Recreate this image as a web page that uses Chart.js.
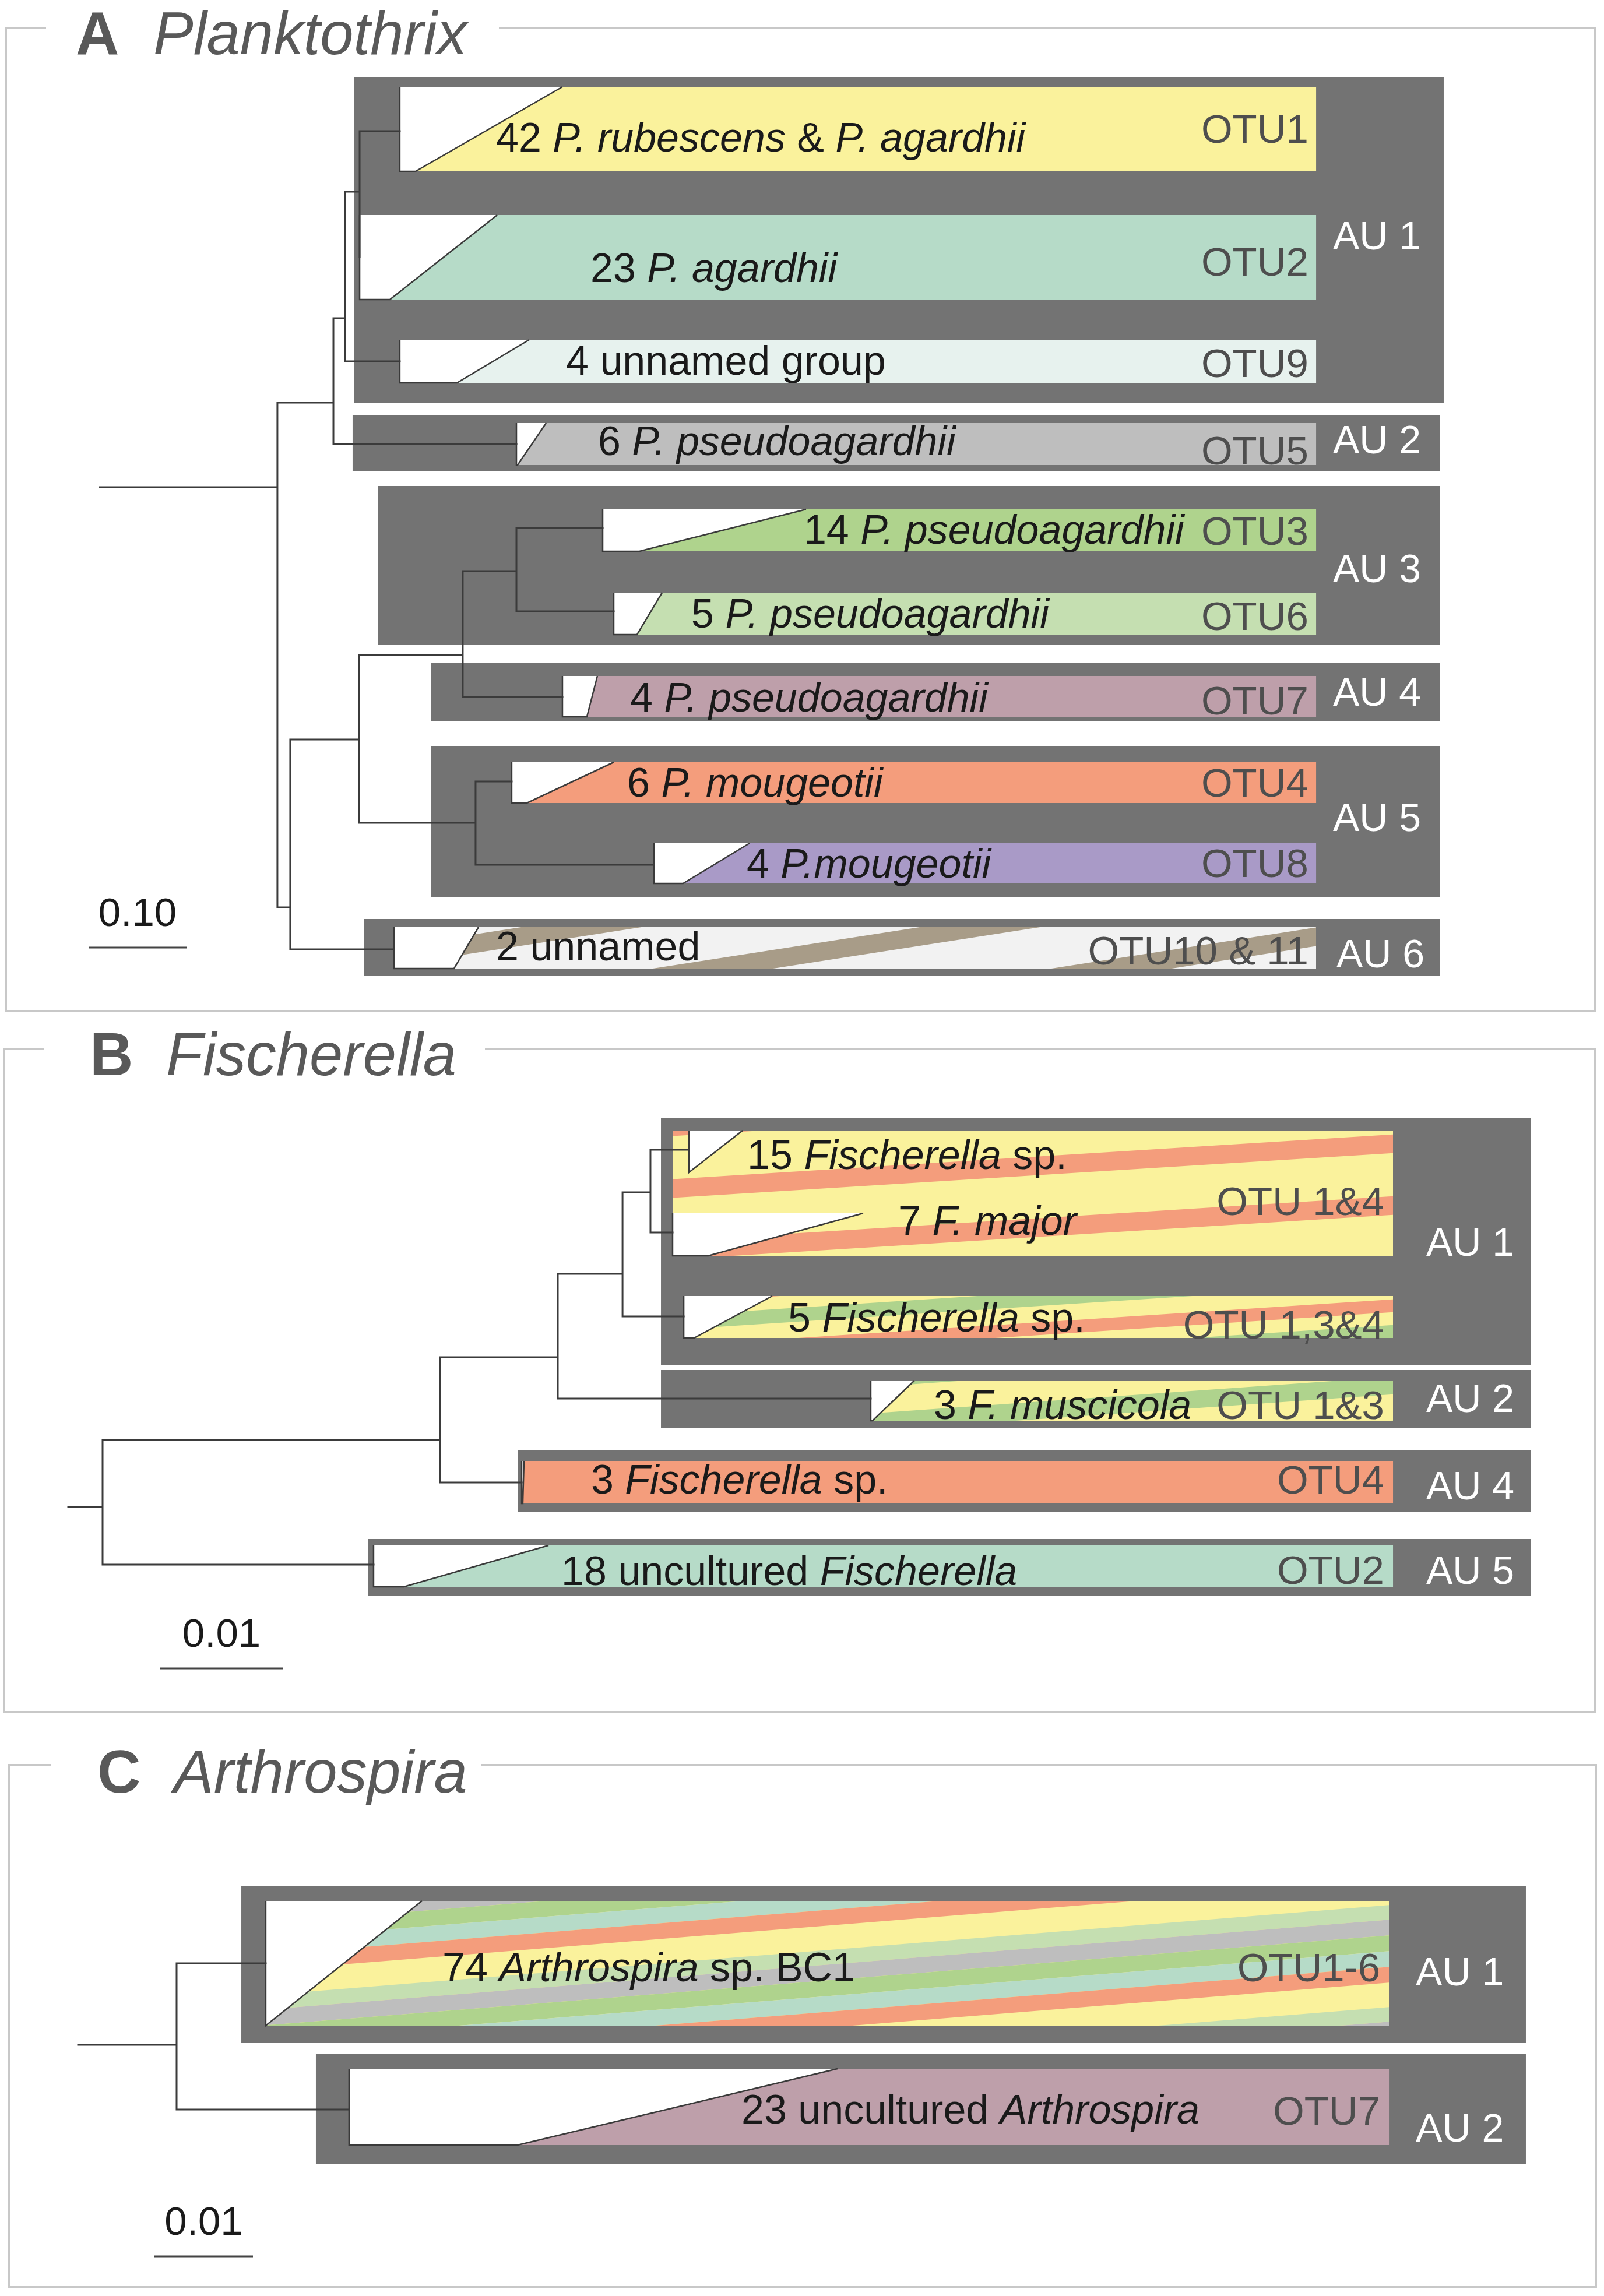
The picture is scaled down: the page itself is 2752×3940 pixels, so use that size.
<!DOCTYPE html>
<html lang="en">
<head>
<meta charset="utf-8">
<title>Planktothrix, Fischerella and Arthrospira trees</title>
<script src="https://cdn.jsdelivr.net/npm/chart.js@4.4.1/dist/chart.umd.min.js"></script>
<style>
html,body{margin:0;padding:0;background:#ffffff;}
#wrap{position:relative;width:2752px;height:3940px;}
canvas{display:block;}
</style>
</head>
<body>
<div id="wrap"><canvas id="tree" width="2752" height="3940" style="width:2752px;height:3940px"></canvas></div>
<script>
// ======================= DATA =======================
// depth = distance from the root (substitutions / site); pos = vertical layout row position

// ---- Panel A : Planktothrix ----
const A_ids     = ['r','n1','n2','n3','n4','n5','n6','n7','n8','n9','t1','t2','t9','t5','t3','t6','t7','t4','t8','t10'];
const A_parent  = [null,'r','n1','n1','n2','n4','n3','n6','n6','n7','n5','n5','n4','n2','n9','n9','n7','n8','n8','n3'];
const A_depth   = [0,0.1815,0.2387,0.1946,0.2506,0.2655,0.2649,0.3708,0.3839,0.4256,0.3065,0.2655,0.3065,0.4256,0.5137,0.5250,0.4726,0.4208,0.5661,0.3006];
const A_pos     = [836,836,691,1557,546,329,1269,1124,1412,980,225,441,620,762,906,1049,1196,1341,1484,1629];

const A_tips      = ['t1','t2','t9','t5','t3','t6','t7','t4','t8','t10'];
const A_species   = ['42 _P. rubescens_ & _P. agardhii_','23 _P. agardhii_','4 unnamed group','6 _P. pseudoagardhii_','14 _P. pseudoagardhii_','5 _P. pseudoagardhii_','4 _P. pseudoagardhii_','6 _P. mougeotii_','4 _P.mougeotii_','2 unnamed'];
const A_otu       = ['OTU1','OTU2','OTU9','OTU5','OTU3','OTU6','OTU7','OTU4','OTU8','OTU10 & 11'];
const A_cladeTop  = [149,369,583,726,874,1017,1160,1308,1447,1591];
const A_cladeBot  = [294,514,657,798,946,1089,1230,1378,1516,1662];
const A_cladeMax  = [0.4726,0.4060,0.4387,0.4560,0.7214,0.5744,0.5083,0.5250,0.6637,0.3869];
const A_cladeMin  = [0.3226,0.2964,0.3649,0.4268,0.5512,0.5488,0.4976,0.4363,0.5958,0.3619];
const A_barStart  = [0.3065,0.2655,0.3065,0.4256,0.5137,0.5250,0.4726,0.4208,0.5661,0.3006];
const A_barEnd    = 1.2423;
const A_labelDepth= [0.4048,0.5012,0.4762,0.5089,0.7190,0.6042,0.5417,0.5387,0.6607,0.4048];
const A_labelPos  = [235,459,618,756,908,1052,1196,1342,1481,1623];
const A_otuPos    = [220,448,622,772,910,1056,1201,1342,1480,1630];
const A_otuDepth  = 1.2345;

const A_au        = ['AU 1','AU 2','AU 3','AU 4','AU 5','AU 6'];
const A_auStart   = [0.2601,0.2583,0.2845,0.3381,0.3381,0.2702];
const A_auEnd     = [1.3726,1.3690,1.3690,1.3690,1.3690,1.3690];
const A_auTop     = [132,712,834,1138,1281,1577];
const A_auBot     = [692,809,1106,1237,1539,1675];
const A_auPos     = [404,754,975,1187,1402,1636];
const A_auDepth   = [1.2595,1.2595,1.2595,1.2595,1.2595,1.2631];

// ---- Panel B : Fischerella ----
const B_ids     = ['r','n1','n2','n3','n4','n5','f15','f7','f5','musc','fsp3','unc18'];
const B_parent  = [null,'r','n1','n2','n3','n4','n5','n5','n4','n3','n2','n1'];
const B_depth   = [0,0.00281,0.03038,0.04000,0.04529,0.04757,0.05071,0.04938,0.05029,0.06557,0.03705,0.02495];
const B_pos     = [2586,2586,2471,2329,2186,2046,1973,2115,2259,2400,2544,2685];

const B_tips      = ['f15','f7','f5','musc','fsp3','unc18'];
const B_species   = ['15 _Fischerella_ sp.','7 _F. major_','5 _Fischerella_ sp.','3 _F. muscicola_','3 _Fischerella_ sp.','18 uncultured _Fischerella_'];
const B_cladeTop  = [1940,2082,2224,2369,2507,2652];
const B_cladeBot  = [2012,2155,2296,2438,2580,2723];
const B_cladeMax  = [0.05510,0.06495,0.05752,0.06914,0.03724,0.03924];
const B_cladeMin  = [0.05071,0.05229,0.05114,0.06571,0.03714,0.02743];
const B_labelDepth= [0.05548,0.06781,0.05881,0.07071,0.04271,0.04029];
const B_labelPos  = [1981,2094,2260,2410,2538,2695];

const B_otu       = ['OTU 1&4','OTU 1,3&4','OTU 1&3','OTU4','OTU2'];
const B_barStart  = [0.04938,0.05029,0.06557,0.03705,0.02495];
const B_barTop    = [1940,2224,2369,2507,2652];
const B_barBot    = [2155,2296,2438,2580,2723];
const B_barEnd    = 0.10824;
const B_otuPos    = [2060,2272,2410,2538,2693];
const B_otuDepth  = 0.10752;

const B_au        = ['AU 1','AU 2','AU 4','AU 5'];
const B_auStart   = [0.04843,0.04843,0.03676,0.02452];
const B_auEnd     = [0.11952,0.11952,0.11952,0.11952];
const B_auTop     = [1918,2351,2488,2641];
const B_auBot     = [2343,2450,2595,2739];
const B_auPos     = [2131,2399,2549,2694];
const B_auDepth   = [0.11095,0.11095,0.11095,0.11095];

// ---- Panel C : Arthrospira ----
const C_ids     = ['r','n1','t74','t23'];
const C_parent  = [null,'r','n1','n1'];
const C_depth   = [0,0.0100,0.01905,0.02751];
const C_pos     = [3509,3509,3369,3620];

const C_tips      = ['t74','t23'];
const C_species   = ['74 _Arthrospira_ sp. BC1','23 uncultured _Arthrospira_'];
const C_otu       = ['OTU1-6','OTU7'];
const C_cladeTop  = [3262,3550];
const C_cladeBot  = [3476,3681];
const C_cladeMax  = [0.03491,0.07710];
const C_cladeMin  = [0.01905,0.04462];
const C_barStart  = [0.01905,0.02751];
const C_barEnd    = 0.13308;
const C_labelDepth= [0.03698,0.06734];
const C_labelPos  = [3375,3619];
const C_otuPos    = [3375,3621];
const C_otuDepth  = 0.13219;

const C_au        = ['AU 1','AU 2'];
const C_auStart   = [0.01657,0.02414];
const C_auEnd     = [0.14698,0.14698];
const C_auTop     = [3237,3524];
const C_auBot     = [3506,3713];
const C_auPos     = [3383,3651];
const C_auDepth   = [0.13580,0.13580];

// scale bars (length in substitutions / site)
const scaleLabel  = ['0.10','0.01','0.01'];
const scaleLength = [0.10,0.01,0.01];
const scaleStart  = [-0.01131,0.007524,0.007751];
const scalePos    = [1626,2863,3872];

// ======================= STYLE / LAYOUT =======================
const FONT = '"Liberation Sans", Arial, Helvetica, sans-serif';
const COL = {box:'#737373', line:'#3b3b3b', frame:'#c8c8c8', species:'#1a1a1a', otu:'#4e4e4e', au:'#ffffff', title:'#595959',
  yellow:'#FAF29C', teal:'#B6DBC8', paleTeal:'#E7F2EE', gray:'#BEBEBE', green:'#AFD38D', lightGreen:'#C5DFB1',
  mauve:'#BE9FAA', orange:'#F49D7C', purple:'#A99AC7', offWhite:'#F2F2F2', tan:'#A89C88'};
const SIZE = {species:70, otu:69, au:68, title:103, scale:69};
const PAT = {
  A10:  {base:COL.offWhite, slope:0.155, period:106, phase:1835.6, bands:[[COL.tan,0,32]]},
  B14:  {base:COL.yellow, slope:0.062, period:106, phase:2095, bands:[[COL.orange,0,32]]},
  B134: {base:COL.yellow, slope:0.065, period:96, phase:2385, bands:[[COL.orange,0,22],[COL.green,44,68]]},
  B13:  {base:COL.yellow, slope:0.07, period:75, phase:2530, bands:[[COL.green,0,30]]},
  C16:  {base:COL.yellow, slope:0.08, period:175, phase:3485, bands:[[COL.gray,0,27],[COL.green,27,54],[COL.teal,54,81],[COL.orange,81,108],[COL.lightGreen,150,175]]}
};
const A_fill = [COL.yellow,COL.teal,COL.paleTeal,COL.gray,COL.green,COL.lightGreen,COL.mauve,COL.orange,COL.purple,PAT.A10];
const B_fill = [PAT.B14,PAT.B134,PAT.B13,COL.orange,COL.teal];
const C_fill = [PAT.C16,COL.mauve];

const FRAMES = [
  {left:10, right:2736, top:48,   bottom:1735, gapL:79, gapR:856, letter:'A', name:'Planktothrix', letterX:130, nameX:263, base:93},
  {left:7,  right:2736, top:1800, bottom:2938, gapL:75, gapR:832, letter:'B', name:'Fischerella',  letterX:154, nameX:285, base:1845},
  {left:16, right:2738, top:3029, bottom:3925, gapL:88, gapR:825, letter:'C', name:'Arthrospira',  letterX:167, nameX:298, base:3076}
];

// x axis per panel: pixels per unit and root offset
const X_AXES = {
  xA: {min:-171/1680,   max:(2752-171)/1680},
  xB: {min:-117/21000,  max:(2752-117)/21000},
  xC: {min:-134/16900,  max:(2752-134)/16900}
};

// ======================= BUILD =======================
function treeLineData(ids, parents, depth, pos){
  const idx = {}; ids.forEach((id,i)=>{idx[id]=i;});
  const kids = ids.map(()=>[]);
  parents.forEach((p,i)=>{ if(p!==null) kids[idx[p]].push(i); });
  const pts = [];
  const brk = () => pts.push({x:0, y:null});
  ids.forEach((id,i)=>{
    const ch = kids[i].slice().sort((a,b)=>pos[a]-pos[b]);
    if(!ch.length) return;
    if(ch.length===1){ const c=ch[0]; pts.push({x:depth[i],y:pos[c]},{x:depth[c],y:pos[c]}); brk(); return; }
    const f=ch[0], l=ch[ch.length-1];
    pts.push({x:depth[f],y:pos[f]},{x:depth[i],y:pos[f]},{x:depth[i],y:pos[l]},{x:depth[l],y:pos[l]});
    brk();
    for(let k=1;k<ch.length-1;k++){ const c=ch[k]; pts.push({x:depth[i],y:pos[c]},{x:depth[c],y:pos[c]}); brk(); }
  });
  return pts;
}
function tipDepth(ids, depth, tips){ return tips.map(t=>depth[ids.indexOf(t)]); }

const PANELS = [
  { axis:'xA',
    boxes: A_au.map((t,i)=>({x0:A_auStart[i],x1:A_auEnd[i],y0:A_auTop[i],y1:A_auBot[i],label:t,ld:A_auDepth[i],lp:A_auPos[i]})),
    bars:  A_otu.map((t,i)=>({x0:A_barStart[i],x1:A_barEnd,y0:A_cladeTop[i],y1:A_cladeBot[i],fill:A_fill[i],otu:t,od:A_otuDepth,op:A_otuPos[i]})),
    clades: tipDepth(A_ids,A_depth,A_tips).map((d,i)=>({tip:d,far:A_cladeMax[i],near:A_cladeMin[i],y0:A_cladeTop[i],y1:A_cladeBot[i]})),
    species: A_species.map((t,i)=>({text:t,d:A_labelDepth[i],p:A_labelPos[i]})),
    lines: treeLineData(A_ids,A_parent,A_depth,A_pos) },
  { axis:'xB',
    boxes: B_au.map((t,i)=>({x0:B_auStart[i],x1:B_auEnd[i],y0:B_auTop[i],y1:B_auBot[i],label:t,ld:B_auDepth[i],lp:B_auPos[i]})),
    bars:  B_otu.map((t,i)=>({x0:B_barStart[i],x1:B_barEnd,y0:B_barTop[i],y1:B_barBot[i],fill:B_fill[i],otu:t,od:B_otuDepth,op:B_otuPos[i]})),
    clades: tipDepth(B_ids,B_depth,B_tips).map((d,i)=>({tip:d,far:B_cladeMax[i],near:B_cladeMin[i],y0:B_cladeTop[i],y1:B_cladeBot[i]})),
    species: B_species.map((t,i)=>({text:t,d:B_labelDepth[i],p:B_labelPos[i]})),
    lines: treeLineData(B_ids,B_parent,B_depth,B_pos) },
  { axis:'xC',
    boxes: C_au.map((t,i)=>({x0:C_auStart[i],x1:C_auEnd[i],y0:C_auTop[i],y1:C_auBot[i],label:t,ld:C_auDepth[i],lp:C_auPos[i]})),
    bars:  C_otu.map((t,i)=>({x0:C_barStart[i],x1:C_barEnd,y0:C_cladeTop[i],y1:C_cladeBot[i],fill:C_fill[i],otu:t,od:C_otuDepth,op:C_otuPos[i]})),
    clades: tipDepth(C_ids,C_depth,C_tips).map((d,i)=>({tip:d,far:C_cladeMax[i],near:C_cladeMin[i],y0:C_cladeTop[i],y1:C_cladeBot[i]})),
    species: C_species.map((t,i)=>({text:t,d:C_labelDepth[i],p:C_labelPos[i]})),
    lines: treeLineData(C_ids,C_parent,C_depth,C_pos) }
];

function fillStripes(ctx, x0, y0, x1, y1, pat){
  ctx.save();
  ctx.beginPath(); ctx.rect(x0,y0,x1-x0,y1-y0); ctx.clip();
  ctx.fillStyle = pat.base; ctx.fillRect(x0,y0,x1-x0,y1-y0);
  const s = pat.slope;
  const cMin = y0 + s*x0, cMax = y1 + s*x1;
  const k0 = Math.floor((cMin - pat.phase)/pat.period) - 1;
  const k1 = Math.ceil((cMax - pat.phase)/pat.period) + 1;
  for(let k=k0;k<=k1;k++){
    pat.bands.forEach(b=>{
      const c0 = pat.phase + k*pat.period + b[1], c1 = pat.phase + k*pat.period + b[2];
      ctx.fillStyle = b[0];
      ctx.beginPath();
      ctx.moveTo(x0, c0 - s*x0); ctx.lineTo(x1, c0 - s*x1);
      ctx.lineTo(x1, c1 - s*x1); ctx.lineTo(x0, c1 - s*x0);
      ctx.closePath(); ctx.fill();
    });
  }
  ctx.restore();
}

function richText(ctx, str, x, baseline, size, color){
  const parts = str.split('_');
  let cx = x;
  ctx.fillStyle = color; ctx.textBaseline = 'alphabetic'; ctx.textAlign = 'left';
  parts.forEach((seg,i)=>{
    if(!seg) return;
    ctx.font = (i%2 ? 'italic ' : '') + size + 'px ' + FONT;
    ctx.fillText(seg, cx, baseline);
    cx += ctx.measureText(seg).width;
  });
}

const backPlugin = {
  id:'treeBack',
  beforeDatasetsDraw(chart){
    const ctx = chart.ctx, Y = chart.scales.y;
    ctx.save();
    // panel frames
    ctx.strokeStyle = COL.frame; ctx.lineWidth = 4;
    FRAMES.forEach(f=>{
      const t = Y.getPixelForValue(f.top), b = Y.getPixelForValue(f.bottom);
      ctx.beginPath();
      ctx.moveTo(f.gapR, t); ctx.lineTo(f.right, t); ctx.lineTo(f.right, b);
      ctx.lineTo(f.left, b); ctx.lineTo(f.left, t); ctx.lineTo(f.gapL, t);
      ctx.stroke();
    });
    PANELS.forEach(P=>{
      const X = chart.scales[P.axis];
      // AU boxes
      ctx.fillStyle = COL.box;
      P.boxes.forEach(b=>{
        const x0=X.getPixelForValue(b.x0), x1=X.getPixelForValue(b.x1), y0=Y.getPixelForValue(b.y0), y1=Y.getPixelForValue(b.y1);
        ctx.fillRect(x0,y0,x1-x0,y1-y0);
      });
      // OTU bars
      P.bars.forEach(b=>{
        const x0=X.getPixelForValue(b.x0), x1=X.getPixelForValue(b.x1), y0=Y.getPixelForValue(b.y0), y1=Y.getPixelForValue(b.y1);
        if(typeof b.fill === 'string'){ ctx.fillStyle=b.fill; ctx.fillRect(x0,y0,x1-x0,y1-y0); }
        else fillStripes(ctx,x0,y0,x1,y1,b.fill);
      });
      // collapsed clade triangles
      P.clades.forEach(c=>{
        const xt=X.getPixelForValue(c.tip), xf=X.getPixelForValue(c.far), xn=X.getPixelForValue(c.near);
        const y0=Y.getPixelForValue(c.y0), y1=Y.getPixelForValue(c.y1);
        ctx.fillStyle = '#ffffff';
        ctx.beginPath(); ctx.moveTo(xt,y0); ctx.lineTo(xf,y0); ctx.lineTo(xn,y1); ctx.lineTo(xt,y1); ctx.closePath(); ctx.fill();
        ctx.strokeStyle = '#3a3a3a'; ctx.lineWidth = 2.5;
        ctx.beginPath(); ctx.moveTo(xf,y0); ctx.lineTo(xn,y1); ctx.lineTo(xt,y1); ctx.lineTo(xt,y0); ctx.stroke();
      });
    });
    ctx.restore();
  },
  afterDatasetsDraw(chart){
    const ctx = chart.ctx, Y = chart.scales.y;
    ctx.save();
    // titles
    FRAMES.forEach(f=>{
      const b = Y.getPixelForValue(f.base);
      ctx.fillStyle = COL.title; ctx.textBaseline='alphabetic'; ctx.textAlign='left';
      ctx.font = 'bold ' + SIZE.title + 'px ' + FONT; ctx.fillText(f.letter, f.letterX, b);
      ctx.font = 'italic ' + SIZE.title + 'px ' + FONT; ctx.fillText(f.name, f.nameX, b);
    });
    PANELS.forEach((P,pi)=>{
      const X = chart.scales[P.axis];
      P.species.forEach(s=>{
        richText(ctx, s.text, X.getPixelForValue(s.d), Y.getPixelForValue(s.p) + 0.358*SIZE.species, SIZE.species, COL.species);
      });
      P.bars.forEach(b=>{
        ctx.font = SIZE.otu + 'px ' + FONT; ctx.fillStyle = COL.otu; ctx.textAlign='right'; ctx.textBaseline='alphabetic';
        ctx.fillText(b.otu, X.getPixelForValue(b.od), Y.getPixelForValue(b.op) + 0.358*SIZE.otu);
      });
      P.boxes.forEach(b=>{
        ctx.font = SIZE.au + 'px ' + FONT; ctx.fillStyle = COL.au; ctx.textAlign='left'; ctx.textBaseline='alphabetic';
        ctx.fillText(b.label, X.getPixelForValue(b.ld), Y.getPixelForValue(b.lp) + 0.358*SIZE.au);
      });
      // scale bar
      const sx0 = X.getPixelForValue(scaleStart[pi]), sx1 = X.getPixelForValue(scaleStart[pi] + scaleLength[pi]);
      const sy = Y.getPixelForValue(scalePos[pi]);
      ctx.strokeStyle = '#444444'; ctx.lineWidth = 3;
      ctx.beginPath(); ctx.moveTo(sx0, sy); ctx.lineTo(sx1, sy); ctx.stroke();
      ctx.font = SIZE.scale + 'px ' + FONT; ctx.fillStyle = COL.species; ctx.textAlign='center'; ctx.textBaseline='alphabetic';
      ctx.fillText(scaleLabel[pi], (sx0+sx1)/2, sy - 37);
    });
    ctx.restore();
  }
};

const datasets = PANELS.map((P,i)=>({
  label: ['Planktothrix','Fischerella','Arthrospira'][i] + ' tree',
  data: P.lines, xAxisID: P.axis, yAxisID: 'y',
  showLine: true, spanGaps: false, borderColor: COL.line, borderWidth: 3,
  borderJoinStyle: 'miter', borderCapStyle: 'square',
  pointRadius: 0, pointHoverRadius: 0, tension: 0, clip: false
}));

const scales = { y: {type:'linear', display:false, min:0, max:3940, reverse:true} };
Object.keys(X_AXES).forEach(k=>{ scales[k] = {type:'linear', axis:'x', position:'bottom', display:false, min:X_AXES[k].min, max:X_AXES[k].max}; });

new Chart(document.getElementById('tree').getContext('2d'), {
  type: 'scatter',
  data: { datasets },
  options: {
    responsive: false, animation: false, devicePixelRatio: 1, events: [],
    layout: { padding: 0 },
    plugins: { legend:{display:false}, tooltip:{enabled:false}, title:{display:false} },
    scales
  },
  plugins: [backPlugin]
});
</script>
</body>
</html>
